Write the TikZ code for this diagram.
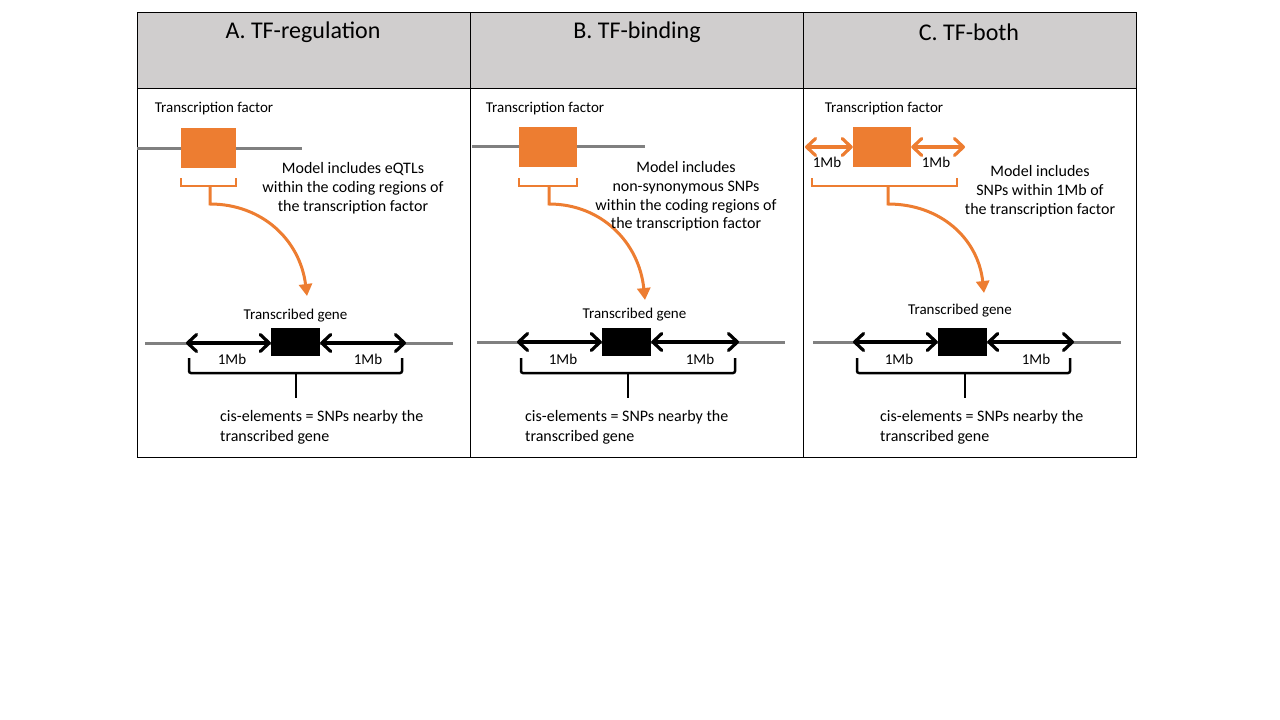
\documentclass[tikz,border=0pt]{standalone}
\usepackage{fontspec}
\setmainfont{Carlito}
\usetikzlibrary{arrows.meta}
\definecolor{org}{HTML}{ED7D31}
\definecolor{hdr}{HTML}{D0CECE}
\definecolor{gline}{HTML}{808080}
\begin{document}
\begin{tikzpicture}[x=1pt,y=-1pt,
  title/.style={font=\fontsize{24}{28}\selectfont, inner sep=0},
  lbl/.style={font=\fontsize{15}{18}\selectfont, inner sep=0},
  body/.style={font=\fontsize{16}{18.8}\selectfont, align=center, inner sep=0},
  cistext/.style={font=\fontsize{16}{20}\selectfont, align=left, inner sep=0, anchor=west},
  tfbox/.style={fill=org, draw=none, inner sep=0, minimum height=40},
  genebox/.style={fill=black, draw=none, inner sep=0, minimum width=49, minimum height=28},
  dna/.style={gline, line width=3},
  rangearr/.style={line width=3.2, {Straight Barb[length=9pt,width=17pt,round]}-{Straight Barb[length=9pt,width=17pt,round]}},
  obrace/.style={org, line width=2.5},
  kbrace/.style={black, line width=2.5, rounded corners=2},
  curvearr/.style={org, line width=3, -{Triangle[length=12pt,width=13pt]}}
]
\useasboundingbox (0,0) rectangle (1280,720);
% table
\fill[hdr] (137,12) rectangle (1136,88);
\draw[line width=1] (137,12) rectangle (1136,457);
\draw[line width=1] (137,88) -- (1136,88);
\draw[line width=1] (470,12) -- (470,457);
\draw[line width=1] (803,12) -- (803,457);
\node[title] (tA) at (303,32) {A. TF-regulation};
\node[title] (tB) at (637,32) {B. TF-binding};
\node[title] (tC) at (969,32) {C. TF-both};

% ---------- Panel A ----------
\node[lbl] (tfA) at (214,109) {Transcription factor};
\draw[dna] (137,148) -- (302,148);
\node[tfbox, minimum width=55] (boxA) at (208.5,148) {};
\draw[obrace] (181,178) -- (181,186) -- (236,186) -- (236,178);
\coordinate (sA) at (210,186);
\coordinate (eA) at (307,296);
\draw[curvearr] (sA) -- (210,204) .. controls (262,204) and (300,240) .. (eA);
\node[body] (mA) at (353,188) {Model includes eQTLs\\within the coding regions of\\the transcription factor};
\node[lbl] (gA) at (295.5,316) {Transcribed gene};
\draw[dna] (145,343) -- (453,343);
\node[genebox] (geneA) at (295.5,342) {};
\coordinate (lA) at (186,343);
\coordinate (rA) at (406,343);
\draw[rangearr] (lA) -- (geneA.west |- lA);
\draw[rangearr] (geneA.east |- rA) -- (rA);
\node[lbl] (mbA1) at (232,359) {1Mb};
\node[lbl] (mbA2) at (368,359) {1Mb};
\draw[kbrace] (189,358) -- (189,373) -- (402,373) -- (402,358);
\draw[line width=2.5] (296,373) -- (296,398);
\node[cistext] (cA) at (220,427) {cis-elements = SNPs nearby the\\transcribed gene};

% ---------- Panel B ----------
\node[lbl] (tfB) at (545,109) {Transcription factor};
\draw[dna] (472,146) -- (645,146);
\node[tfbox, minimum width=58] (boxB) at (548,147) {};
\draw[obrace] (519,178) -- (519,186) -- (577,186) -- (577,178);
\coordinate (sB) at (549,186);
\coordinate (eB) at (645,300);
\draw[curvearr] (sB) -- (549,204) .. controls (601,204) and (639,242) .. (eB);
\node[body] (mB) at (686,196.5) {Model includes\\non-synonymous SNPs\\within the coding regions of\\the transcription factor};
\node[lbl] (gB) at (634.5,315) {Transcribed gene};
\draw[dna] (477,342) -- (785,342);
\node[genebox] (geneB) at (626.5,342) {};
\coordinate (lB) at (517,342);
\coordinate (rB) at (739,342);
\draw[rangearr] (lB) -- (geneB.west |- lB);
\draw[rangearr] (geneB.east |- rB) -- (rB);
\node[lbl] (mbB1) at (563,359) {1Mb};
\node[lbl] (mbB2) at (700,359) {1Mb};
\draw[kbrace] (521,358) -- (521,373) -- (735,373) -- (735,358);
\draw[line width=2.5] (628,373) -- (628,398);
\node[cistext] (cB) at (525,427) {cis-elements = SNPs nearby the\\transcribed gene};

% ---------- Panel C ----------
\node[lbl] (tfC) at (884,109) {Transcription factor};
\node[tfbox, minimum width=58] (boxC) at (882,147) {};
\coordinate (olC) at (805,147);
\coordinate (orC) at (965,147);
\draw[rangearr, org] (olC) -- (boxC.west |- olC);
\draw[rangearr, org] (boxC.east |- orC) -- (orC);
\node[lbl] (omC1) at (827,162) {1Mb};
\node[lbl] (omC2) at (936,162) {1Mb};
\draw[obrace] (812,178) -- (812,186) -- (957,186) -- (957,178);
\coordinate (sC) at (888,186);
\coordinate (eC) at (984,293);
\draw[curvearr] (sC) -- (888,204) .. controls (940,204) and (978,238) .. (eC);
\node[body] (mC) at (1040,191) {Model includes\\SNPs within 1Mb of\\the transcription factor};
\node[lbl] (gC) at (960,311) {Transcribed gene};
\draw[dna] (813,342) -- (1121,342);
\node[genebox] (geneC) at (962.5,342) {};
\coordinate (lC) at (853,342);
\coordinate (rC) at (1074,342);
\draw[rangearr] (lC) -- (geneC.west |- lC);
\draw[rangearr] (geneC.east |- rC) -- (rC);
\node[lbl] (mbC1) at (899,359) {1Mb};
\node[lbl] (mbC2) at (1036,359) {1Mb};
\draw[kbrace] (857,358) -- (857,373) -- (1070,373) -- (1070,358);
\draw[line width=2.5] (965,373) -- (965,398);
\node[cistext] (cC) at (880,427) {cis-elements = SNPs nearby the\\transcribed gene};
\end{tikzpicture}
\end{document}
